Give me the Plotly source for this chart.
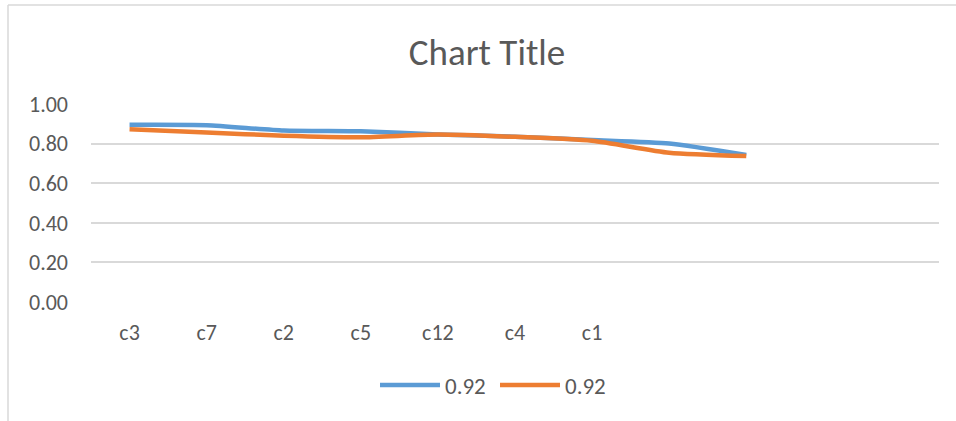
import plotly.graph_objects as go

categories = ["c3", "c7", "c2", "c5", "c12", "c4", "c1", "", "", "", ""]
series_a = [0.895, 0.893, 0.866, 0.862, 0.846, 0.835, 0.818, 0.800, 0.742]
series_b = [0.872, 0.856, 0.840, 0.832, 0.846, 0.834, 0.814, 0.754, 0.737]
series_names = ["0.92", "0.92"]
y_ticks = [0.0, 0.2, 0.4, 0.6, 0.8, 1.0]

W, H = 956, 421
L, R, T, B = 91, 17, 104, 119
pw, ph = W - L - R, H - T - B

FONT = "Carlito, Calibri, Lato, sans-serif"
TXT = "#595959"
GRID = "#d9d9d9"

fig = go.Figure()
for name, vals, col in [(series_names[0], series_a, "#5B9BD5"),
                        (series_names[1], series_b, "#ED7D31")]:
    fig.add_trace(go.Scatter(
        x=list(range(len(vals))), y=vals, name=name, mode="lines",
        line=dict(color=col, width=4.5, shape="spline", smoothing=0.6),
    ))

fig.update_layout(
    width=W, height=H,
    margin=dict(l=L, r=R, t=T, b=B),
    paper_bgcolor="white", plot_bgcolor="white",
    font=dict(family=FONT, color=TXT, size=21),
    title=dict(text="Chart Title", x=(487 - L) / pw, xref="paper",
               y=1 - 52 / H, yref="container", xanchor="center", yanchor="middle",
               font=dict(size=37, color=TXT, family=FONT)),
    showlegend=True,
    legend=dict(orientation="h", x=(381 - 6) / W, xref="container", xanchor="left",
                y=1 - 385 / H, yref="container", yanchor="middle",
                font=dict(size=23, color=TXT), itemwidth=60,
                entrywidth=45, entrywidthmode="pixels",
                bgcolor="rgba(0,0,0,0)"),
    xaxis=dict(range=[-0.5, len(categories) - 0.5],
               tickmode="array", tickvals=list(range(len(categories))),
               ticktext=categories, showgrid=False, zeroline=False,
               showline=False, ticks="", ticklabelstandoff=15,
               tickfont=dict(size=22, color=TXT), fixedrange=True),
    yaxis=dict(range=[0, 1.0], tickmode="array", tickvals=y_ticks,
               ticktext=[f"{v:.2f}" for v in y_ticks],
               showgrid=True, gridcolor=GRID, gridwidth=1.5,
               zeroline=False, showline=False, ticks="",
               ticklabelstandoff=22, tickfont=dict(size=22, color=TXT),
               fixedrange=True),
    shapes=[
        dict(type="line", xref="paper", yref="paper",
             x0=(8 - L) / pw, x1=(W + 5 - L) / pw,
             y0=(H - B - 5) / ph, y1=(H - B - 5) / ph,
             line=dict(color=GRID, width=1.5)),
        dict(type="line", xref="paper", yref="paper",
             x0=(8 - L) / pw, x1=(8 - L) / pw,
             y0=(H - B - 5) / ph, y1=-(B + 5) / ph,
             line=dict(color=GRID, width=1.5)),
    ],
)

fig.write_html("out.html", config={"displayModeBar": False})

with open("out.html", "r", encoding="utf-8") as f:
    html = f.read()
html = html.replace("<body>", '<body style="margin:0;padding:0;overflow:hidden">', 1)
with open("out.html", "w", encoding="utf-8") as f:
    f.write(html)
